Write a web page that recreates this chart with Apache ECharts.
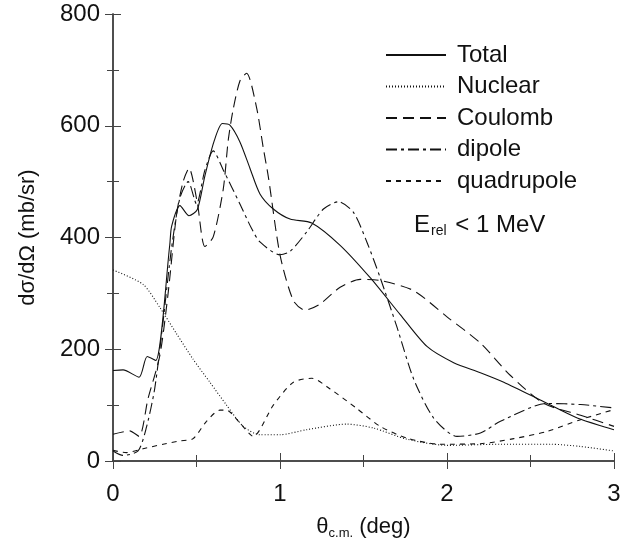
<!DOCTYPE html>
<html>
<head>
<meta charset="utf-8">
<script src="https://cdn.jsdelivr.net/npm/echarts@6/dist/echarts.min.js"></script>
<style>
  html, body { margin: 0; padding: 0; background: #fff; }
  #chart { width: 629px; height: 545px; }
</style>
</head>
<body>
<div id="chart"></div>
<script>
// values: [theta (deg), dsigma/dOmega (mb/sr)]
const total = [
  [0, 162], [0.06, 163], [0.156, 150], [0.205, 187], [0.256, 180], [0.34, 387],
  [0.351, 420], [0.401, 457], [0.455, 439], [0.505, 450], [0.55, 510], [0.605, 572],
  [0.655, 604], [0.70, 601], [0.76, 571], [0.82, 524], [0.88, 478], [0.96, 451],
  [1.06, 433], [1.19, 426], [1.36, 386], [1.54, 328], [1.72, 262], [1.88, 205],
  [2.04, 176], [2.2, 158], [2.34, 141], [2.58, 106], [2.78, 77], [3.0, 56]
];
const nuclear = [
  [0, 342], [0.18, 316], [0.28, 275], [0.38, 228], [0.48, 182], [0.58, 141],
  [0.68, 100], [0.78, 62], [0.88, 47], [1.0, 47], [1.16, 56], [1.4, 66],
  [1.56, 59], [1.76, 39], [2.0, 28], [2.32, 30], [2.62, 30], [2.8, 26], [3.0, 18]
];
const coulomb = [
  [0, 48], [0.1, 54], [0.156, 44], [0.21, 112], [0.28, 188], [0.33, 300],
  [0.38, 440], [0.42, 500], [0.455, 524], [0.505, 462], [0.55, 384], [0.6, 401],
  [0.66, 486], [0.69, 574], [0.72, 630], [0.76, 680], [0.8, 694], [0.86, 632],
  [0.9, 560], [0.93, 509], [1.0, 369], [1.08, 287], [1.15, 270], [1.24, 281],
  [1.36, 311], [1.48, 325], [1.6, 323], [1.8, 305], [2.0, 258], [2.2, 211],
  [2.38, 153], [2.58, 103], [2.8, 82], [3.0, 62]
];
const dipole = [
  [0, 18], [0.06, 10], [0.15, 18], [0.2, 60], [0.25, 130], [0.3, 250],
  [0.35, 380], [0.4, 470], [0.45, 500], [0.5, 460], [0.55, 520], [0.6, 555],
  [0.66, 521], [0.76, 460], [0.83, 416], [0.88, 392], [1.0, 369], [1.06, 375],
  [1.16, 410], [1.26, 451], [1.35, 464], [1.44, 445], [1.52, 392], [1.6, 328],
  [1.7, 240], [1.8, 147], [1.92, 77], [2.06, 44], [2.2, 50], [2.32, 71],
  [2.6, 103], [2.8, 101], [3.0, 95]
];
const quadrupole = [
  [0, 19], [0.08, 15], [0.18, 22], [0.3, 30], [0.4, 36], [0.48, 40],
  [0.56, 71], [0.64, 91], [0.68, 91], [0.76, 68], [0.84, 44], [0.96, 100],
  [1.08, 141], [1.19, 148], [1.3, 129], [1.46, 94], [1.6, 62], [1.76, 41],
  [1.96, 30], [2.2, 31], [2.4, 40], [2.6, 53], [2.8, 74], [3.0, 92]
];

const FONT = 'Liberation Sans, Arial, sans-serif';
const INK = '#111';
const FRAME = '#444';

const chart = echarts.init(document.getElementById('chart'));

const mkSeries = (name, data, type) => ({
  name: name,
  type: 'line',
  data: data,
  smooth: 0.25,
  showSymbol: false,
  symbol: 'none',
  lineStyle: { color: INK, width: 1.1, type: type },
  itemStyle: { color: INK },
  emphasis: { disabled: true },
  animation: false,
});

const frameAxis = {
  axisLine: { show: true, lineStyle: { color: FRAME, width: 1.5 } },
  splitLine: { show: false },
  axisTick: { inside: true, length: 8, lineStyle: { color: FRAME } },
  minorTick: { show: true, splitNumber: 2, length: 6, lineStyle: { color: FRAME } },
};

chart.setOption({
  animation: false,
  grid: { left: 113, right: 15, top: 14, bottom: 75, containLabel: false },
  legend: {
    orient: 'vertical',
    left: 380,
    top: 38,
    itemWidth: 60,
    itemHeight: 14,
    itemGap: 7.5,
    itemStyle: { opacity: 0 },
    textStyle: { fontFamily: FONT, fontSize: 24, color: INK, padding: [0, 0, 0, 6] },
    data: ['Total', 'Nuclear', 'Coulomb', 'dipole', 'quadrupole'],
  },
  graphic: [{
    type: 'text',
    left: 414,
    top: 213,
    style: {
      text: '{a|E}{s|rel}{a| < 1 MeV}',
      rich: {
        a: { fontFamily: FONT, fontSize: 24, fill: INK },
        s: { fontFamily: FONT, fontSize: 14, fill: INK, verticalAlign: 'bottom', padding: [12, 2, 0, 1] },
      },
    },
  }],
  xAxis: [
    Object.assign({}, frameAxis, {
      type: 'value',
      min: 0, max: 3, interval: 1,
      position: 'bottom',
      name: '{a|θ}{s|c.m.}{a| (deg)}',
      nameLocation: 'middle',
      nameGap: 52,
      nameTextStyle: {
        rich: {
          a: { fontFamily: FONT, fontSize: 22, color: INK },
          s: { fontFamily: FONT, fontSize: 13, color: INK, verticalAlign: 'bottom', padding: [14, 0, 0, 0] },
        },
      },
      axisLabel: { fontFamily: FONT, fontSize: 24, color: INK, margin: 21 },
    }),
    Object.assign({}, frameAxis, {
      type: 'value',
      min: 0, max: 3, interval: 1,
      position: 'top',
      axisLabel: { show: false },
    }),
  ],
  yAxis: [
    Object.assign({}, frameAxis, {
      type: 'value',
      min: 0, max: 800, interval: 200,
      position: 'left',
      name: 'dσ/dΩ (mb/sr)',
      nameLocation: 'middle',
      nameGap: 74,
      nameTextStyle: { fontFamily: FONT, fontSize: 22, color: INK },
      axisLabel: { fontFamily: FONT, fontSize: 24, color: INK, margin: 13 },
    }),
    Object.assign({}, frameAxis, {
      type: 'value',
      min: 0, max: 800, interval: 200,
      position: 'right',
      axisLabel: { show: false },
    }),
  ],
  series: [
    mkSeries('Total', total, 'solid'),
    mkSeries('Nuclear', nuclear, [1, 2]),
    mkSeries('Coulomb', coulomb, [11, 6]),
    mkSeries('dipole', dipole, [11, 4, 3, 4]),
    mkSeries('quadrupole', quadrupole, [5, 5]),
  ],
});
</script>
</body>
</html>
